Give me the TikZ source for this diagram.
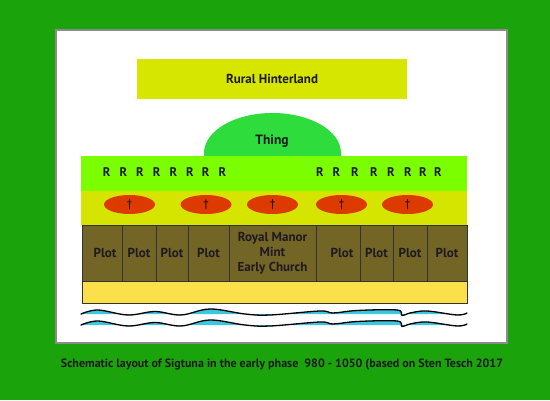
\documentclass[tikz,border=0pt]{standalone}
\usepackage{fontspec}
\setmainfont{PT Sans}
\usetikzlibrary{shapes.geometric}
\definecolor{bggreen}{HTML}{1AA30A}
\definecolor{hinter}{HTML}{D6E600}
\definecolor{thingc}{HTML}{2EDC3C}
\definecolor{rband}{HTML}{7BFF00}
\definecolor{yband}{HTML}{D6E500}
\definecolor{redc}{HTML}{DD3A00}
\definecolor{plotc}{HTML}{736526}
\definecolor{shore}{HTML}{FCE04A}
\definecolor{water}{HTML}{3BC7E0}
\definecolor{txt}{HTML}{1E1A22}
\tikzset{
  box/.style={rectangle, inner sep=0pt, outer sep=0pt, font=\bfseries\fontsize{13}{15}\selectfont, text=txt},
  plotbox/.style={box, fill=plotc, draw=black!80, line width=0.8pt, minimum height=56pt},
  church/.style={ellipse, fill=redc, minimum width=51pt, minimum height=19pt, inner sep=0pt, font=\fontsize{11}{12}\selectfont, text=black},
  rlabel/.style={font=\bfseries\fontsize{12.5}{14}\selectfont, text=txt, inner sep=0pt},
  wave/.style={draw=black, line width=1.3pt, line cap=round},
}
\begin{document}
\begin{tikzpicture}[x=1pt,y=-1pt]
\useasboundingbox (0,0) rectangle (550,400);
\fill[bggreen] (0,0) rectangle (550,400);
\draw[fill=white, draw=black!45, line width=1.2pt] (56,30) rectangle (507,343);
% Rural hinterland
\node[box, fill=hinter, minimum width=270pt, minimum height=40pt] (rural) at (272,79) {Rural Hinterland};
% Thing
\node[ellipse, fill=thingc, minimum width=137pt, minimum height=80pt, inner sep=0pt] (thing) at (272.5,153) {};
\node[box, font=\bfseries\fontsize{13.5}{15}\selectfont] (thingt) at (272,141) {Thing};
% bands
\node[box, fill=rband, minimum width=386pt, minimum height=35pt] (rb) at (274,173.5) {};
\node[box, fill=yband, minimum width=386pt, minimum height=34pt] (yb) at (274,208) {};
% R labels
\foreach \x [count=\i] in {106.7,123.3,140,156.7,173.3,190,205.7,222.3,320,336.5,355,374,391,408,423,438}
  \node[rlabel] (r\i) at (\x,172) {R};
% churches
\foreach \x [count=\i] in {129.5,206,272.5,341.5,407.5}
  \node[church] (c\i) at (\x,204.5) {\textdagger};
% plots
\node[plotbox, minimum width=40pt] (p1) at (102,253) {\hspace{6pt}Plot};
\node[plotbox, minimum width=34pt] (p2) at (139,253) {Plot};
\node[plotbox, minimum width=32pt] (p3) at (172,253) {Plot};
\node[plotbox, minimum width=41pt] (p4) at (208.5,253) {Plot};
\node[plotbox, minimum width=87pt, align=center, font=\bfseries\fontsize{13}{15}\selectfont] (royal) at (272.5,253) {Royal Manor\\Mint\\Early Church};
\node[plotbox, minimum width=44pt] (p5) at (338,253) {\hspace{8pt}Plot};
\node[plotbox, minimum width=33pt] (p6) at (376.5,253) {Plot};
\node[plotbox, minimum width=34pt] (p7) at (410,253) {Plot};
\node[plotbox, minimum width=40pt] (p8) at (447,253) {Plot};
% shore
\node[box, fill=shore, draw=black!80, line width=0.8pt, minimum width=385pt, minimum height=22pt] (shore) at (274.5,292) {};
% waves
\foreach \dy in {0,11}{
  \begin{scope}[yshift=-\dy pt]
  \fill[water] plot[smooth, tension=0.6] coordinates {(81,314) (98,310) (128,315) (155,311.5) (181,315) (210,309) (245,314) (270,315) (320,311) (333,313) (357,310.5) (397,310) (402,315.5) (410,313) (427,311) (457,315) (467,313)} -- (467,314) -- (81,314) -- cycle;
  \draw[wave] plot[smooth, tension=0.6] coordinates {(81,314) (98,310) (128,315) (155,311.5) (181,315) (210,309) (245,314) (270,315) (320,311) (333,313) (357,310.5) (397,310) (402,315.5) (410,313) (427,311) (457,315) (467,313)};
  \end{scope}
}
% caption
\node[font=\bfseries\fontsize{12}{14}\selectfont, text=txt, inner sep=0pt] (caption) at (282,365) {Schematic layout of Sigtuna in the early phase\ \ 980 - 1050 (based on Sten Tesch 2017};
\end{tikzpicture}
\end{document}
